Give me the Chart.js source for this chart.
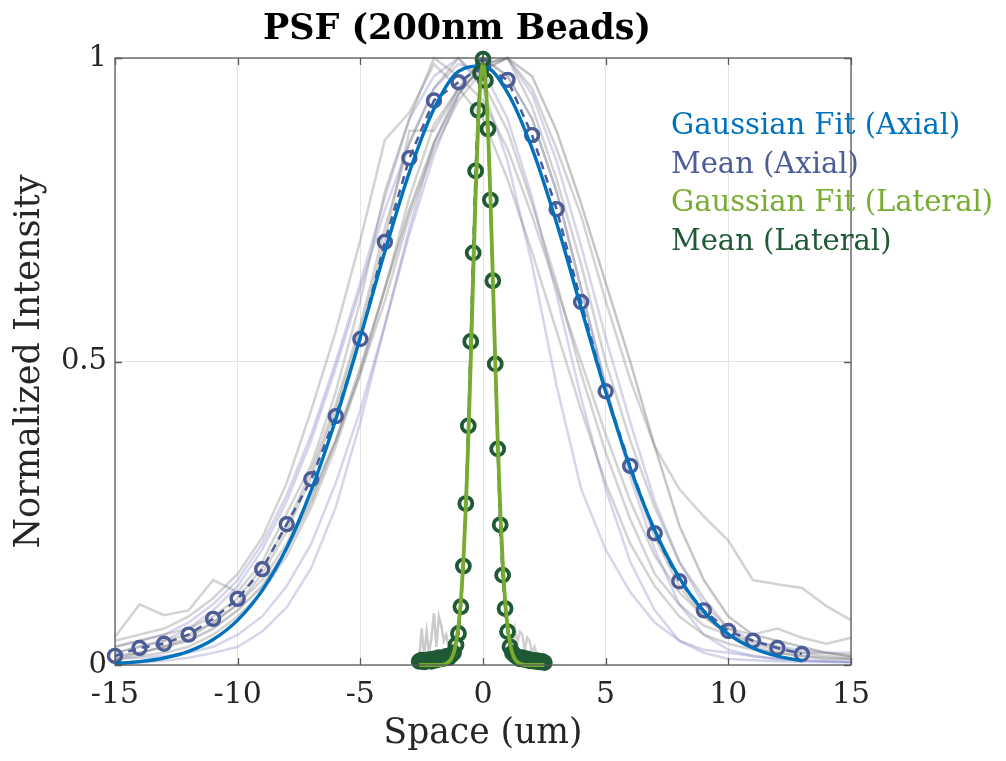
<!DOCTYPE html>
<html><head><meta charset="utf-8">
<script src="https://cdn.jsdelivr.net/npm/chart.js@4"></script>
<style>
body{margin:0;background:#fff;}
#wrap{position:relative;width:1006px;height:761px;}
#title{position:absolute;left:0;width:914px;top:6px;text-align:center;font:bold 35px "DejaVu Serif";color:#000;}
#legend{position:absolute;left:671px;top:105px;font:29px "DejaVu Serif";line-height:38.5px;white-space:nowrap;}
canvas{position:absolute;left:0;top:0;}
</style></head>
<body>
<div id="wrap">
<canvas id="c" width="1006" height="761"></canvas>
<div id="title">PSF (200nm Beads)</div>
<div id="legend"></div>
</div>
<script>
// ---- data ----
const axialX = [-15,-14,-13,-12,-11,-10,-9,-8,-7,-6,-5,-4,-3,-2,-1,0,1,2,3,4,5,6,7,8,9,10,11,12,13,14,15];
const traceA = [.046,.10,.082,.09,.14,.12,.17,.25,.33,.45,.60,.78,.90,1.0,.97,.93,.85,.74,.62,.50,.38,.27,.18,.12,.08,.05,.04,.03,.02,.02,.015];
const traceB = [.02,.03,.04,.05,.07,.10,.14,.20,.28,.37,.48,.60,.74,.85,.93,.98,1.0,.95,.85,.74,.60,.47,.36,.29,.245,.205,.14,.133,.127,.097,.074];
const traceC = [.015,.02,.03,.04,.06,.09,.13,.19,.27,.37,.49,.62,.75,.86,.94,.99,1.0,.97,.88,.76,.63,.5,.36,.23,.14,.08,.05,.04,.03,.02,.015];
const traceD = [.03,.04,.05,.06,.08,.11,.16,.23,.32,.43,.56,.72,.86,.95,1.0,.96,.88,.76,.63,.48,.35,.24,.15,.10,.065,.05,.035,.025,.02,.015,.012];
const traceE = [.01,.02,.03,.045,.07,.10,.15,.22,.31,.42,.55,.70,.88,.88,.95,1.0,.97,.90,.78,.62,.46,.32,.21,.13,.08,.05,.03,.02,.015,.012,.01];
const traceF = [.01,.015,.02,.03,.05,.08,.12,.18,.26,.36,.48,.62,.77,.89,.95,.98,1.0,.92,.80,.66,.50,.37,.26,.17,.11,.06,.05,.06,.045,.035,.045];
const traceG = [.04,.05,.06,.08,.11,.15,.21,.30,.42,.55,.70,.865,.91,.99,.95,.90,.80,.68,.55,.42,.30,.20,.13,.08,.05,.035,.025,.02,.015,.01,.01];
const traceL1 = [.002,.004,.007,.012,.02,.03,.055,.095,.16,.26,.40,.56,.72,.86,.95,1.0,.97,.90,.78,.62,.46,.31,.19,.10,.05,.025,.015,.01,.008,.006,.005];
const traceL2 = [.03,.04,.05,.07,.10,.14,.20,.28,.38,.50,.63,.77,.90,.97,1.0,.95,.83,.66,.46,.29,.19,.12,.07,.04,.025,.02,.015,.01,.008,.006,.005];
const traceL3 = [.01,.012,.015,.02,.03,.05,.08,.13,.20,.30,.42,.56,.71,.84,.94,.99,1.0,.94,.83,.69,.54,.40,.27,.17,.10,.06,.04,.03,.025,.02,.02];
const traceL4 = [.02,.03,.04,.06,.09,.13,.19,.27,.37,.49,.62,.75,.86,.95,.99,.98,.90,.77,.61,.44,.29,.17,.09,.04,.02,.01,.008,.006,.005,.005,.004];

const meanAxialX = [-15,-14,-13,-12,-11,-10,-9,-8,-7,-6,-5,-4,-3,-2,-1,0,1,2,3,4,5,6,7,8,9,10,11,12,13];
const meanAxial = [.015,.028,.035,.05,.076,.109,.158,.232,.306,.41,.537,.697,.835,.93,.96,.987,.964,.873,.751,.598,.451,.328,.217,.138,.09,.056,.04,.028,.018];
const fitAxial  = [.0025,.0055,.0115,.0225,.042,.074,.123,.193,.288,.405,.54,.681,.812,.916,.978,.987,.943,.851,.728,.588,.45,.325,.222,.144,.088,.051,.028,.0145,.007];

const latX = [-2.6,-2.5,-2.4,-2.3,-2.2,-2.1,-2.0,-1.9,-1.8,-1.7,-1.6,-1.5,-1.4,-1.3,-1.2,-1.1,-1.0,-0.9,-0.8,-0.7,-0.6,-0.5,-0.4,-0.3,-0.2,-0.1,0,0.1,0.2,0.3,0.4,0.5,0.6,0.7,0.8,0.9,1.0,1.1,1.2,1.3,1.4,1.5,1.6,1.7,1.8,1.9,2.0,2.1,2.2,2.3,2.4,2.5];
const meanLateral = [.006,.008,.005,.007,.009,.006,.01,.008,.012,.01,.011,.014,.012,.016,.02,.033,.052,.096,.163,.266,.394,.533,.679,.814,.914,.975,.998,.963,.883,.766,.633,.496,.356,.231,.148,.093,.055,.03,.02,.016,.013,.01,.012,.009,.01,.007,.008,.006,.007,.005,.006,.004];
const fitLateral = [0,0,0,0,0,0,0,0,0,0,.001,.002,.005,.01,.019,.036,.064,.108,.172,.259,.37,.5,.639,.774,.887,.963,.99,.963,.887,.774,.639,.5,.37,.259,.172,.108,.064,.036,.019,.01,.005,.002,.001,0,0,0,0,0,0,0,0,0];
const latTrace1 = [.01,.06,.015,.055,.02,.045,.085,.03,.08,.065,.04,.05,.03,.035,.03,.045,.07,.11,.18,.28,.4,.54,.69,.82,.92,.98,1.0,.96,.88,.76,.63,.49,.35,.23,.15,.09,.055,.03,.02,.015,.012,.01,.01,.008,.008,.006,.006,.005,.005,.004,.004,.003];
const latTrace2 = [.003,.004,.004,.005,.005,.006,.006,.008,.008,.01,.01,.012,.015,.02,.025,.035,.055,.095,.16,.26,.39,.53,.67,.81,.91,.97,1.0,.97,.89,.77,.64,.5,.36,.24,.16,.1,.06,.04,.03,.06,.035,.055,.05,.025,.045,.04,.02,.03,.015,.01,.008,.005];

const legendLabels = ['Gaussian Fit (Axial)','Mean (Axial)','Gaussian Fit (Lateral)','Mean (Lateral)'];
const legendColors = ['#0072BD','#4b5c96','#77AC30','#1f5a35'];
const xTicks = [-15,-10,-5,0,5,10,15];
const yTicks = [0, 0.5, 1];
const yTickLabels = ['0', '0.5', '1'];

// ---- build ----
const pts = (xs, ys) => xs.map((x,i)=>({x:x, y:ys[i]}));
const GRAY = 'rgba(120,120,120,0.33)';
const LAV = 'rgba(115,115,190,0.30)';
const traceDs = (arr, col, xs) => ({data: pts(xs, arr), borderColor: col, borderWidth: 2.5, pointRadius: 0, fill: false, tension: 0, clip: false});

const datasets = [
  {label: legendLabels[2], data: pts(latX, fitLateral), borderColor: legendColors[2], borderWidth: 3.8, pointRadius: 0, cubicInterpolationMode: 'monotone', clip: false},
  {label: legendLabels[3], data: pts(latX, meanLateral), borderColor: legendColors[3], borderWidth: 2.5, borderDash: [8,6], pointRadius: 6.5, pointBorderWidth: 3.8, pointBorderColor: legendColors[3], pointBackgroundColor: 'rgba(0,0,0,0)', clip: false},
  {label: legendLabels[0], data: pts(meanAxialX, fitAxial), borderColor: legendColors[0], borderWidth: 3.4, pointRadius: 0, cubicInterpolationMode: 'monotone', clip: false},
  {label: legendLabels[1], data: pts(meanAxialX, meanAxial), borderColor: legendColors[1], borderWidth: 2.6, borderDash: [8,6], pointRadius: 6.5, pointBorderWidth: 3.4, pointBorderColor: legendColors[1], pointBackgroundColor: 'rgba(0,0,0,0)', clip: false},
  traceDs(latTrace1, 'rgba(150,150,150,0.5)', latX),
  traceDs(latTrace2, 'rgba(150,150,150,0.45)', latX),
  traceDs(traceA, GRAY, axialX),
  traceDs(traceB, GRAY, axialX),
  traceDs(traceC, 'rgba(110,110,110,0.4)', axialX),
  traceDs(traceD, GRAY, axialX),
  traceDs(traceE, GRAY, axialX),
  traceDs(traceF, GRAY, axialX),
  traceDs(traceG, GRAY, axialX),
  traceDs(traceL1, LAV, axialX),
  traceDs(traceL2, LAV, axialX),
  traceDs(traceL3, LAV, axialX),
  traceDs(traceL4, LAV, axialX)
];

const frame = {
  id: 'frame',
  afterDraw(chart){
    const {ctx, chartArea: a, scales: {x, y}} = chart;
    ctx.save();
    ctx.strokeStyle = '#5a5a5a';
    ctx.lineWidth = 1.3;
    ctx.strokeRect(a.left, a.top, a.right - a.left, a.bottom - a.top);
    ctx.beginPath();
    xTicks.forEach(v => {
      const px = Math.round(x.getPixelForValue(v)) + 0.5;
      ctx.moveTo(px, a.bottom); ctx.lineTo(px, a.bottom - 7);
      ctx.moveTo(px, a.top); ctx.lineTo(px, a.top + 7);
    });
    yTicks.forEach(v => {
      const py = Math.round(y.getPixelForValue(v)) + 0.5;
      ctx.moveTo(a.left, py); ctx.lineTo(a.left + 7, py);
      ctx.moveTo(a.right, py); ctx.lineTo(a.right - 7, py);
    });
    ctx.stroke();
    ctx.restore();
  }
};

const FONT = '"DejaVu Serif"';
new Chart(document.getElementById('c'), {
  type: 'line',
  data: {datasets},
  options: {
    responsive: false, animation: false, devicePixelRatio: 1,
    layout: {padding: {top: 58, right: 155, left: 0, bottom: 0}},
    plugins: {legend: {display: false}, tooltip: {enabled: false}, title: {display: false}},
    scales: {
      x: {
        type: 'linear', min: -15, max: 15,
        afterBuildTicks: s => { s.ticks = xTicks.map(v => ({value: v})); },
        afterFit: s => { s.height = 96; },
        grid: {color: '#e4e4e4', lineWidth: 1, drawTicks: false},
        border: {display: false},
        ticks: {padding: 12, color: '#262626', font: {family: FONT, size: 30}, callback: v => String(v)},
        title: {display: true, text: 'Space (um)', color: '#262626', font: {family: FONT, size: 34.5}, padding: {top: 0, bottom: 6}}
      },
      y: {
        type: 'linear', min: 0, max: 1,
        afterBuildTicks: s => { s.ticks = yTicks.map(v => ({value: v})); },
        afterFit: s => { s.width = 115; },
        grid: {color: '#e4e4e4', lineWidth: 1, drawTicks: false},
        border: {display: false},
        ticks: {padding: 8, color: '#262626', font: {family: FONT, size: 29}, callback: v => yTickLabels[yTicks.indexOf(v)]},
        title: {display: true, text: 'Normalized Intensity', color: '#262626', font: {family: FONT, size: 35}, padding: {top: 9, bottom: 0}}
      }
    }
  },
  plugins: [frame]
});

const lg = document.getElementById('legend');
legendLabels.forEach((t, i) => {
  const d = document.createElement('div');
  d.textContent = t; d.style.color = legendColors[i];
  lg.appendChild(d);
});
</script>
</body></html>
